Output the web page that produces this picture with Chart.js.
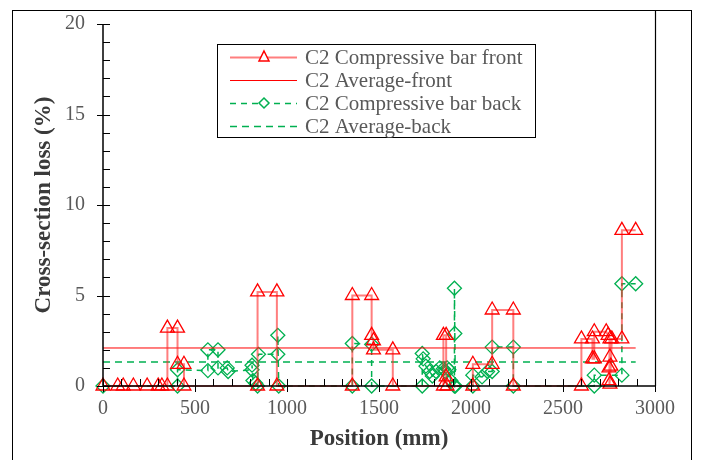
<!DOCTYPE html>
<html>
<head>
<meta charset="utf-8">
<script src="https://cdn.jsdelivr.net/npm/chart.js@4.4.1/dist/chart.umd.min.js"></script>
<style>
html,body{margin:0;padding:0;background:#fff;}
#wrap{width:701px;height:460px;position:relative;}
</style>
</head>
<body>
<div id="wrap"><canvas id="c" width="701" height="460"></canvas></div>
<script>
// ---- data ----
const xTickValues = [0, 500, 1000, 1500, 2000, 2500, 3000];
const yTickValues = [0, 5, 10, 15, 20];
const seriesNames = ["C2 Compressive bar front", "C2 Average-front", "C2 Compressive bar back", "C2 Average-back"];

const frontX = [0, 80, 110, 165, 240, 300, 320, 350, 350, 405, 405, 440, 440, 840, 840, 945, 945, 1355, 1355, 1460, 1460, 1470, 1470, 1575, 1575, 1850, 1850, 1865, 1865, 1870, 2010, 2010, 2115, 2115, 2230, 2230, 2600, 2600, 2660, 2660, 2670, 2670, 2735, 2745, 2755, 2755, 2750, 2750, 2755, 2760, 2765, 2820, 2820, 2895];
const frontY = [0, 0, 0, 0, 0, 0, 0, 0, 3.2, 3.2, 1.2, 1.2, 0, 0, 5.2, 5.2, 0, 0, 5.0, 5.0, 2.8, 2.5, 2.0, 2.0, 0, 0, 2.8, 2.8, 0.5, 0, 0, 1.2, 1.2, 4.2, 4.2, 0, 0, 2.6, 2.6, 1.5, 1.5, 3.0, 3.0, 2.8, 2.6, 1.6, 1.0, 0.3, 0.1, 1.1, 2.6, 2.6, 8.6, 8.6];

const backX = [0, 405, 405, 570, 570, 625, 625, 675, 680, 810, 810, 815, 830, 840, 845, 950, 950, 955, 1355, 1355, 1460, 1460, 1735, 1735, 1740, 1755, 1775, 1790, 1810, 1830, 1850, 1860, 1870, 1880, 1890, 1910, 1910, 1912, 1915, 2010, 2010, 2060, 2090, 2115, 2115, 2230, 2230, 2670, 2670, 2820, 2820, 2895];
const backY = [0, 0, 0.9, 0.85, 2.0, 2.0, 1.0, 1.0, 0.8, 0.9, 1.15, 0.3, 0.15, 0, 1.75, 1.75, 2.8, 0, 0, 2.35, 2.3, 0, 0, 1.8, 1.5, 1.1, 0.8, 0.55, 0.8, 1.0, 0.95, 0.8, 1.0, 0.9, 0.3, 0, 5.4, 2.9, 0, 0, 0.6, 0.5, 0.8, 0.8, 2.15, 2.15, 0, 0, 0.6, 0.6, 5.65, 5.65];

const avgX = [0, 2895];
const avgFrontValue = 2.1;
const avgBackValue = 1.33;

// ---- styles ----
const RED = '#ff0000';
const RED_LINE = 'rgba(255,40,40,0.6)';
const GREEN = '#00b050';
const SERIF = '"Liberation Serif", "DejaVu Serif", serif';
const TXT = '#595959';

const toPts = (xs, ys) => xs.map((x, i) => ({x: x, y: ys[i]}));

const frameAndAxes = {
  id: 'frameAndAxes',
  beforeDraw(chart) {
    const ctx = chart.ctx;
    ctx.save();
    ctx.fillStyle = '#fff';
    ctx.fillRect(0, 0, chart.width, chart.height);
    ctx.restore();
  },
  afterDatasetsDraw(chart) {
    const ctx = chart.ctx, a = chart.chartArea;
    const xs = chart.scales.x, ys = chart.scales.y;
    ctx.save();
    ctx.strokeStyle = '#000';
    ctx.lineWidth = 1.5;
    ctx.beginPath();
    ctx.moveTo(a.left, a.top); ctx.lineTo(a.left, a.bottom);
    ctx.moveTo(a.left, a.bottom); ctx.lineTo(a.right, a.bottom);
    ctx.stroke();
    ctx.lineWidth = 1.2;
    ctx.beginPath();
    ctx.moveTo(a.right + 0.5, 10); ctx.lineTo(a.right + 0.5, a.bottom);
    ctx.stroke();
    ctx.lineWidth = 1;
    ctx.beginPath();
    for (let v = 0; v <= 20; v += 1) {
      const py = Math.round(ys.getPixelForValue(v)) + 0.5;
      if (v % 5 === 0) { ctx.moveTo(a.left - 6, py); ctx.lineTo(a.left + 7, py); }
      else { ctx.moveTo(a.left, py); ctx.lineTo(a.left + 7, py); }
    }
    for (let v = 0; v <= 3000; v += 100) {
      const px = Math.round(xs.getPixelForValue(v)) + 0.5;
      if (v % 500 === 0) { ctx.moveTo(px, a.bottom + 6); ctx.lineTo(px, a.bottom - 7); }
      else { ctx.moveTo(px, a.bottom); ctx.lineTo(px, a.bottom - 7); }
    }
    ctx.stroke();
    ctx.restore();
  },
  afterDraw(chart) {
    const ctx = chart.ctx, a = chart.chartArea;
    ctx.save();
    ctx.strokeStyle = '#000';
    ctx.lineWidth = 1;
    ctx.strokeRect(12.5, 10.5, 679, 470);
    ctx.fillStyle = '#3a3a3a';
    ctx.font = 'bold 23px ' + SERIF;
    ctx.textAlign = 'center';
    ctx.textBaseline = 'middle';
    ctx.fillText('Position (mm)', (a.left + a.right) / 2, 439);
    ctx.save();
    ctx.translate(44, (a.top + a.bottom) / 2);
    ctx.rotate(-Math.PI / 2);
    ctx.fillText('Cross-section loss (%)', 0, 0);
    ctx.restore();
    const bx = 217.5, by = 44.5, bw = 318, bh = 93;
    ctx.fillStyle = '#fff';
    ctx.fillRect(bx, by, bw, bh);
    ctx.strokeStyle = '#000';
    ctx.lineWidth = 1;
    ctx.strokeRect(bx, by, bw, bh);
    const rows = [57, 80, 103, 126];
    const x0 = 230, x1 = 297, xm = 264;
    const sty = [
      {c: RED_LINE, w: 2, dash: [], marker: 'tri'},
      {c: RED, w: 1, dash: [], marker: null},
      {c: GREEN, w: 1.5, dash: [6, 5], marker: 'dia'},
      {c: GREEN, w: 1.5, dash: [7, 5], marker: null}
    ];
    rows.forEach((ry, i) => {
      const s = sty[i];
      ctx.strokeStyle = s.c; ctx.lineWidth = s.w; ctx.setLineDash(s.dash);
      ctx.beginPath(); ctx.moveTo(x0, ry + 0.5); ctx.lineTo(x1, ry + 0.5); ctx.stroke();
      ctx.setLineDash([]);
      if (s.marker === 'tri') {
        ctx.fillStyle = '#fff'; ctx.strokeStyle = RED; ctx.lineWidth = 1.5;
        ctx.beginPath(); ctx.moveTo(xm, ry - 6); ctx.lineTo(xm + 5, ry + 4); ctx.lineTo(xm - 5, ry + 4); ctx.closePath();
        ctx.fill(); ctx.stroke();
      } else if (s.marker === 'dia') {
        ctx.fillStyle = '#fff'; ctx.strokeStyle = GREEN; ctx.lineWidth = 1.5;
        ctx.beginPath(); ctx.moveTo(xm, ry - 5); ctx.lineTo(xm + 5, ry); ctx.lineTo(xm, ry + 5); ctx.lineTo(xm - 5, ry); ctx.closePath();
        ctx.fill(); ctx.stroke();
      }
      ctx.fillStyle = TXT;
      ctx.font = '21px ' + SERIF;
      ctx.textAlign = 'left';
      ctx.textBaseline = 'middle';
      ctx.fillText(seriesNames[i], 305, ry + 1);
    });
    ctx.restore();
  }
};

new Chart(document.getElementById('c'), {
  type: 'line',
  data: {
    datasets: [
      {
        label: seriesNames[0],
        data: toPts(frontX, frontY),
        borderColor: RED_LINE, borderWidth: 2,
        pointStyle: 'triangle', pointRadius: 8,
        pointBorderColor: RED, pointBackgroundColor: 'rgba(255,255,255,0)', pointBorderWidth: 1.3,
        tension: 0, clip: false
      },
      {
        label: seriesNames[1],
        data: toPts(avgX, [avgFrontValue, avgFrontValue]),
        borderColor: RED, borderWidth: 1, pointRadius: 0, clip: false
      },
      {
        label: seriesNames[2],
        data: toPts(backX, backY),
        borderColor: GREEN, borderWidth: 1.5, borderDash: [6, 5],
        pointStyle: 'rectRot', pointRadius: 7,
        pointBorderColor: GREEN, pointBackgroundColor: 'rgba(255,255,255,0)', pointBorderWidth: 1.3,
        tension: 0, clip: false
      },
      {
        label: seriesNames[3],
        data: toPts(avgX, [avgBackValue, avgBackValue]),
        borderColor: GREEN, borderWidth: 1.5, borderDash: [7, 5], pointRadius: 0, clip: false
      }
    ]
  },
  options: {
    responsive: false,
    animation: false,
    devicePixelRatio: 1,
    layout: {padding: {left: 0, top: 24, right: 46, bottom: 0}},
    plugins: {legend: {display: false}, tooltip: {enabled: false}},
    scales: {
      x: {
        type: 'linear', min: 0, max: 3000,
        afterBuildTicks: (s) => { s.ticks = xTickValues.map(v => ({value: v})); },
        afterFit: (s) => { s.height = 74; s.paddingLeft = 0; s.paddingRight = 0; },
        grid: {display: false, drawTicks: false},
        border: {display: false},
        ticks: {color: TXT, font: {family: SERIF, size: 20}, padding: 11, maxRotation: 0, callback: (v) => String(v)}
      },
      y: {
        type: 'linear', min: 0, max: 20,
        afterBuildTicks: (s) => { s.ticks = yTickValues.map(v => ({value: v})); },
        afterFit: (s) => { s.width = 103; s.paddingTop = 0; s.paddingBottom = 0; },
        grid: {display: false, drawTicks: false},
        border: {display: false},
        ticks: {color: TXT, font: {family: SERIF, size: 20}, padding: 18, callback: (v) => String(v)}
      }
    }
  },
  plugins: [frameAndAxes]
});
</script>
</body>
</html>
